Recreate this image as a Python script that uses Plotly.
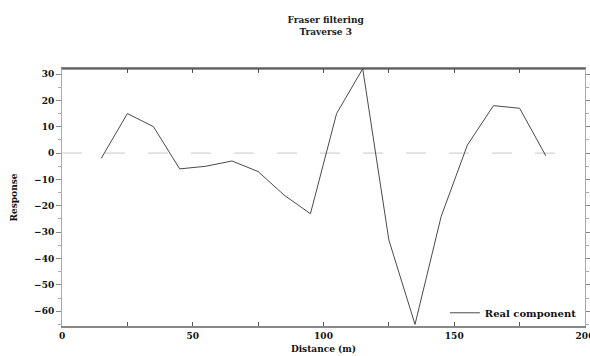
import plotly.graph_objects as go

# Fraser-filtered real component along traverse 3
distance = [15, 25, 35, 45, 55, 65, 75, 85, 95, 105, 115, 125, 135, 145, 155, 165, 175, 185]
response = [-2, 15, 10, -6, -5, -3, -7, -16, -23, 15, 32, -33, -65, -24, 3, 18, 17, -1]

x_ticks = [0, 25, 50, 75, 100, 125, 150, 175, 200]
x_labels = ["0", "", "50", "", "100", "", "150", "", "200"]
y_ticks = [30, 20, 10, 0, -10, -20, -30, -40, -50, -60]

serif = "DejaVu Serif, Liberation Serif, serif"
label_font = dict(family=serif, size=9, color="#111", weight="bold")

fig = go.Figure()

# zero reference line
fig.add_trace(go.Scatter(
    x=[0, 191], y=[0, 0], mode="lines",
    line=dict(color="#c8c8c8", width=1, dash="20px,23px"),
    showlegend=False, hoverinfo="skip",
))

fig.add_trace(go.Scatter(
    x=distance, y=response, mode="lines", name="Real component",
    line=dict(color="#4a4a4a", width=1),
))

fig.update_layout(
    width=590, height=356,
    margin=dict(l=62, r=5, t=69, b=30),
    paper_bgcolor="white", plot_bgcolor="white",
    font=dict(family=serif, size=9, color="#111"),
    title=dict(
        text="<b>Fraser filtering</b><br><b>Traverse 3</b>",
        x=0.552, xanchor="center", y=0.935, yanchor="top",
        font=dict(family=serif, size=9, color="#222"),
    ),
    legend=dict(
        x=0.994, y=-0.005, xanchor="right", yanchor="bottom",
        bgcolor="rgba(0,0,0,0)", borderwidth=0,
        font=dict(family=serif, size=10, color="#111", weight="bold"),
    ),
    showlegend=True,
)

fig.update_xaxes(
    range=[0, 200], tickvals=x_ticks, ticktext=x_labels,
    ticks="inside", ticklen=4, tickcolor="#555", tickwidth=1,
    showline=True, linecolor="#888", linewidth=1.5, mirror="allticks",
    showgrid=False, zeroline=False, automargin=False,
    ticklabeloverflow="allow",
    tickfont=label_font,
    title=dict(text="Distance (m)", standoff=6, font=label_font),
)

fig.update_yaxes(
    range=[-65.6, 31.9], tickvals=y_ticks,
    ticks="outside", ticklen=5, tickcolor="#888", tickwidth=1,
    minor=dict(dtick=5, tick0=0, ticks="outside", ticklen=3, tickcolor="#aaa"),
    showline=True, linecolor="#aaa", linewidth=1, mirror="allticks",
    showgrid=False, zeroline=False, automargin=False,
    tickfont=label_font,
    title=dict(text="Response", standoff=14, font=label_font),
)

# darker top frame edge
fig.add_shape(type="line", xref="paper", yref="paper", x0=0, x1=1, y0=1, y1=1,
              line=dict(color="#333", width=1))

fig.write_html("out.html")
